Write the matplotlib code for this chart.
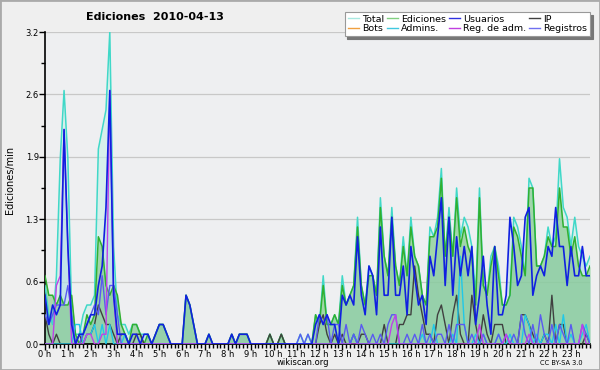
import matplotlib.pyplot as plt
import numpy as np
from matplotlib.patches import Rectangle

# 10-minute buckets, edits per minute
total = [
    0.6, 0.3, 0.2, 0.7, 1.9, 2.6,
    1.9, 0.3, 0.1, 0.1, 0.3, 0.4,
    0.4, 0.5, 2.0, 2.2, 2.4, 3.2,
    1.0, 0.3, 0.2, 0.2, 0.1, 0.2,
    0.2, 0.1, 0.1, 0.1, 0.0, 0.1,
    0.2, 0.2, 0.1, 0.0, 0.0, 0.0,
    0.0, 0.5, 0.4, 0.2, 0.0, 0.0,
    0.0, 0.1, 0.0, 0.0, 0.0, 0.0,
    0.0, 0.1, 0.0, 0.1, 0.1, 0.1,
    0.0, 0.0, 0.0, 0.0, 0.0, 0.1,
    0.0, 0.0, 0.1, 0.0, 0.0, 0.0,
    0.0, 0.1, 0.0, 0.1, 0.0, 0.3,
    0.2, 0.7, 0.2, 0.2, 0.3, 0.2,
    0.7, 0.4, 0.5, 0.6, 1.3, 0.6,
    0.4, 0.8, 0.7, 0.5, 1.5, 0.9,
    0.7, 1.4, 0.8, 0.6, 1.1, 0.7,
    1.3, 0.9, 0.8, 0.5, 0.4, 1.2,
    1.1, 1.3, 1.8, 0.9, 1.4, 0.9,
    1.6, 1.1, 1.3, 1.2, 1.0, 0.5,
    1.6, 0.6, 0.5, 0.9, 1.0, 0.8,
    0.4, 0.4, 0.5, 1.3, 1.2, 1.0,
    0.7, 1.7, 1.6, 0.8, 0.8, 0.9,
    1.2, 1.0, 1.1, 1.9, 1.4, 1.3,
    1.0, 1.3, 1.0, 0.9, 0.8, 0.9,
]
ediciones = [
    0.7, 0.5, 0.5, 0.4, 0.5, 0.4,
    0.4, 0.5, 0.1, 0.0, 0.1, 0.3,
    0.2, 0.3, 1.1, 1.0, 0.6, 0.5,
    0.6, 0.5, 0.2, 0.1, 0.0, 0.2,
    0.2, 0.1, 0.0, 0.1, 0.0, 0.1,
    0.2, 0.2, 0.1, 0.0, 0.0, 0.0,
    0.0, 0.5, 0.4, 0.2, 0.0, 0.0,
    0.0, 0.1, 0.0, 0.0, 0.0, 0.0,
    0.0, 0.1, 0.0, 0.1, 0.1, 0.1,
    0.0, 0.0, 0.0, 0.0, 0.0, 0.1,
    0.0, 0.0, 0.1, 0.0, 0.0, 0.0,
    0.0, 0.0, 0.0, 0.0, 0.0, 0.3,
    0.2, 0.6, 0.2, 0.2, 0.3, 0.2,
    0.6, 0.4, 0.5, 0.6, 1.2, 0.6,
    0.4, 0.7, 0.7, 0.5, 1.4, 0.9,
    0.7, 1.3, 0.8, 0.6, 1.0, 0.7,
    1.2, 0.9, 0.8, 0.5, 0.4, 1.1,
    1.1, 1.2, 1.7, 0.9, 1.3, 0.9,
    1.5, 1.0, 1.2, 1.0, 0.9, 0.4,
    1.5, 0.6, 0.5, 0.8, 1.0, 0.7,
    0.4, 0.4, 0.5, 1.2, 1.1, 0.9,
    0.7, 1.6, 1.6, 0.8, 0.8, 0.9,
    1.1, 1.0, 1.0, 1.6, 1.2, 1.2,
    0.9, 1.1, 0.8, 0.7, 0.7, 0.8,
]
usuarios = [
    0.5, 0.2, 0.4, 0.3, 0.4, 2.2,
    1.0, 0.2, 0.0, 0.1, 0.1, 0.2,
    0.3, 0.3, 0.6, 0.8, 1.4, 2.6,
    0.5, 0.1, 0.1, 0.1, 0.0, 0.1,
    0.1, 0.0, 0.1, 0.1, 0.0, 0.1,
    0.2, 0.2, 0.1, 0.0, 0.0, 0.0,
    0.0, 0.5, 0.4, 0.2, 0.0, 0.0,
    0.0, 0.1, 0.0, 0.0, 0.0, 0.0,
    0.0, 0.1, 0.0, 0.1, 0.1, 0.1,
    0.0, 0.0, 0.0, 0.0, 0.0, 0.0,
    0.0, 0.0, 0.0, 0.0, 0.0, 0.0,
    0.0, 0.0, 0.0, 0.0, 0.0, 0.2,
    0.3, 0.2, 0.3, 0.2, 0.2, 0.0,
    0.5, 0.4, 0.5, 0.4, 1.1, 0.5,
    0.3, 0.8, 0.7, 0.3, 1.2, 0.5,
    0.5, 1.3, 0.5, 0.5, 0.8, 0.3,
    1.0, 0.7, 0.4, 0.5, 0.2, 0.9,
    0.7, 1.1, 1.5, 0.6, 1.3, 0.5,
    1.1, 0.7, 1.0, 0.7, 1.0, 0.2,
    0.5, 0.9, 0.4, 0.1, 1.0, 0.3,
    0.3, 0.5, 1.3, 1.0, 0.6, 0.7,
    1.3, 1.4, 0.5, 0.7, 0.8, 0.7,
    1.0, 0.9, 1.4, 1.0, 1.0, 0.6,
    1.0, 0.7, 0.7, 1.0, 0.7, 0.7,
]
ip = [
    0.3, 0.1, 0.0, 0.1, 0.0, 0.0,
    0.0, 0.0, 0.0, 0.1, 0.0, 0.1,
    0.1, 0.2, 0.4, 0.3, 0.2, 0.2,
    0.1, 0.0, 0.1, 0.1, 0.0, 0.0,
    0.1, 0.1, 0.0, 0.0, 0.0, 0.0,
    0.0, 0.0, 0.0, 0.0, 0.0, 0.0,
    0.0, 0.0, 0.0, 0.0, 0.0, 0.0,
    0.0, 0.0, 0.0, 0.0, 0.0, 0.0,
    0.0, 0.0, 0.0, 0.0, 0.0, 0.0,
    0.0, 0.0, 0.0, 0.0, 0.0, 0.1,
    0.0, 0.0, 0.1, 0.0, 0.0, 0.0,
    0.0, 0.0, 0.0, 0.0, 0.0, 0.0,
    0.2, 0.3, 0.1, 0.0, 0.1, 0.0,
    0.1, 0.0, 0.0, 0.1, 0.0, 0.1,
    0.1, 0.0, 0.0, 0.0, 0.0, 0.2,
    0.0, 0.0, 0.0, 0.2, 0.2, 0.3,
    0.3, 0.8, 0.5, 0.3, 0.1, 0.1,
    0.0, 0.3, 0.4, 0.2, 0.0, 0.3,
    0.5, 0.1, 0.0, 0.0, 0.5, 0.2,
    0.0, 0.3, 0.1, 0.0, 0.2, 0.2,
    0.2, 0.0, 0.0, 0.0, 0.0, 0.3,
    0.3, 0.2, 0.1, 0.0, 0.0, 0.1,
    0.0, 0.5, 0.0, 0.2, 0.2, 0.0,
    0.0, 0.0, 0.0, 0.0, 0.1, 0.0,
]
bots = [0.0] * 144
admins = [
    0.0, 0.0, 0.0, 0.0, 0.0, 0.0,
    0.0, 0.0, 0.2, 0.2, 0.0, 0.1,
    0.1, 0.2, 0.0, 0.2, 0.0, 0.2,
    0.0, 0.0, 0.0, 0.1, 0.0, 0.0,
] + [0.0] * 54 + [
    0.0, 0.0, 0.0, 0.1, 0.0, 0.0,
    0.0, 0.0, 0.0, 0.0, 0.0, 0.0,
    0.0, 0.0, 0.0, 0.0, 0.0, 0.0,
    0.0, 0.0, 0.0, 0.1, 0.0, 0.0,
    0.2, 0.0, 0.0, 0.0, 0.0, 0.1,
    0.0, 0.9, 0.2, 0.0, 0.0, 0.1,
    0.0, 0.1, 0.0, 0.0, 0.0, 0.1,
    0.0, 0.0, 0.1, 0.0, 0.0, 0.0,
    0.3, 0.2, 0.0, 0.1, 0.0, 0.1,
    0.1, 0.0, 0.2, 0.0, 0.3, 0.0,
    0.1, 0.0, 0.0, 0.1, 0.2, 0.0,
]
reg_adm = [
    0.0, 0.0, 0.0, 0.6, 0.7, 2.2,
    1.0, 0.0, 0.0, 0.0, 0.0, 0.1,
    0.1, 0.0, 0.0, 0.1, 0.1, 2.6,
    0.5, 0.0, 0.0, 0.0, 0.0, 0.0,
] + [0.0] * 66 + [
    0.0, 0.2, 0.3, 0.0, 0.0, 0.0,
    0.0, 0.0, 0.0, 0.0, 0.0, 0.0,
    0.0, 0.0, 0.0, 0.0, 0.0, 0.0,
    0.0, 0.0, 0.0, 0.0, 0.0, 0.0,
    0.2, 0.0, 0.0, 0.0, 0.0, 0.0,
    0.0, 0.1, 0.0, 0.0, 0.0, 0.0,
    0.0, 0.1, 0.0, 0.0, 0.0, 0.0,
    0.0, 0.0, 0.0, 0.0, 0.0, 0.0,
    0.0, 0.0, 0.0, 0.2, 0.0, 0.0,
]
registros = [
    0.3, 0.2, 0.3, 0.4, 0.4, 0.4,
    0.6, 0.3, 0.0, 0.0, 0.1, 0.2,
    0.3, 0.4, 0.3, 0.7, 0.3, 0.6,
    0.6, 0.3, 0.0, 0.0, 0.0, 0.0,
] + [0.0] * 43 + [0.1, 0.0, 0.1, 0.0] + [0.0] + [
    0.3, 0.2, 0.3, 0.0, 0.2, 0.2,
    0.0, 0.2, 0.0, 0.1, 0.0, 0.2,
    0.1, 0.0, 0.1, 0.0, 0.1, 0.0,
    0.2, 0.3, 0.3, 0.0, 0.0, 0.1,
    0.0, 0.1, 0.0, 0.2, 0.0, 0.1,
    0.0, 0.1, 0.1, 0.0, 0.2, 0.0,
    0.2, 0.2, 0.2, 0.0, 0.1, 0.0,
    0.0, 0.1, 0.0, 0.0, 0.0, 0.1,
    0.0, 0.1, 0.0, 0.1, 0.0, 0.3,
    0.1, 0.0, 0.2, 0.0, 0.3, 0.1,
    0.0, 0.2, 0.0, 0.2, 0.1, 0.0,
    0.2, 0.0, 0.0, 0.2, 0.1, 0.0,
]

hour_labels = [f"{h} h" for h in range(24)]
ytick_vals = [0.0, 0.64, 1.28, 1.92, 2.56, 3.2]
ytick_labels = ["0.0", "0.6", "1.3", "1.9", "2.6", "3.2"]

x = np.arange(len(total)) / 6.0

fig = plt.figure(figsize=(6, 3.7), dpi=100, facecolor="#efefef")
ax = fig.add_axes([45 / 600, 26 / 370, 545 / 600, 312 / 370])
ax.set_facecolor("#eeeff1")

# fills
ax.fill_between(x, total, color="#c8f0e8", alpha=0.6, lw=0, zorder=1)
ax.fill_between(x, usuarios, color="#9ccde6", alpha=0.35, lw=0, zorder=1.5)
ax.fill_between(x, ediciones, color="#6cbf6c", alpha=0.5, lw=0, zorder=2)

ax.plot(x, bots, color="#f0a040", lw=1, zorder=1)
ax.plot(x, total, color="#40d8c8", lw=1.1, zorder=3)
ax.plot(x, ediciones, color="#30b030", lw=1.1, zorder=3.1)
ax.plot(x, ip, color="#404040", lw=1, zorder=3.2)
ax.plot(x, admins, color="#20c8e8", lw=1, zorder=3.3)
ax.plot(x, registros, color="#5a5af0", lw=1, zorder=3.4)
ax.plot(x, reg_adm, color="#c040e8", lw=1, zorder=3.5)
ax.plot(x, usuarios, color="#1020e0", lw=1.2, zorder=3.6)

ax.set_xlim(0, x[-1])
ax.set_ylim(0, 3.2)
ax.set_yticks(ytick_vals)
ax.set_yticklabels(ytick_labels)
ax.set_yticks([0.32, 0.96, 1.6, 2.24, 2.88], minor=True)
ax.set_xticks(np.arange(24))
ax.set_xticklabels(hour_labels)
ax.set_xticks(x, minor=True)
ax.yaxis.grid(True, color="#c8c8c8", lw=0.9)
ax.set_axisbelow(True)
for s in ["top", "right"]:
    ax.spines[s].set_visible(False)
ax.spines["left"].set_linewidth(1.2)
ax.spines["bottom"].set_linewidth(1.2)
ax.tick_params(axis="both", which="major", length=4, width=1, labelsize=6, pad=0.5)
ax.tick_params(axis="both", which="minor", length=3, width=1)

fig.text(0.258, 0.955, "Ediciones  2010-04-13", fontsize=8, fontweight="bold",
         ha="center", va="center")
fig.text(0.017, 0.515, "Ediciones/min", rotation=90, fontsize=7, ha="center", va="center")
fig.text(0.505, 0.021, "wikiscan.org", fontsize=6, ha="center", va="center")
fig.text(0.935, 0.02, "CC BY-SA 3.0", fontsize=4.8, ha="center", va="center")

handles = [
    plt.Line2D([], [], color="#a8e8e0", lw=1),
    plt.Line2D([], [], color="#f0a040", lw=1),
    plt.Line2D([], [], color="#80d080", lw=1),
    plt.Line2D([], [], color="#40c8e0", lw=1),
    plt.Line2D([], [], color="#3030e0", lw=1),
    plt.Line2D([], [], color="#c040e0", lw=1),
    plt.Line2D([], [], color="#404040", lw=1),
    plt.Line2D([], [], color="#7070f0", lw=1),
]
names = ["Total", "Bots", "Ediciones", "Admins.", "Usuarios", "Reg. de adm.", "IP", "Registros"]
leg = fig.legend(handles, names, ncol=4, loc="upper right", bbox_to_anchor=(0.983, 0.968),
                 fontsize=6.8, frameon=True, fancybox=False, edgecolor="#999999",
                 facecolor="white", framealpha=1, shadow={"color": "#777777", "alpha": 1},
                 handlelength=1.2, handletextpad=0.3, columnspacing=0.3, labelspacing=0.05,
                 borderpad=0.3, borderaxespad=0)
leg.get_frame().set_linewidth(0.8)

fig.patches.append(Rectangle((0, 0), 1, 1, transform=fig.transFigure, fill=False,
                             edgecolor="#aaaaaa", lw=2))

fig.savefig("out.png", dpi=100, facecolor=fig.get_facecolor())
